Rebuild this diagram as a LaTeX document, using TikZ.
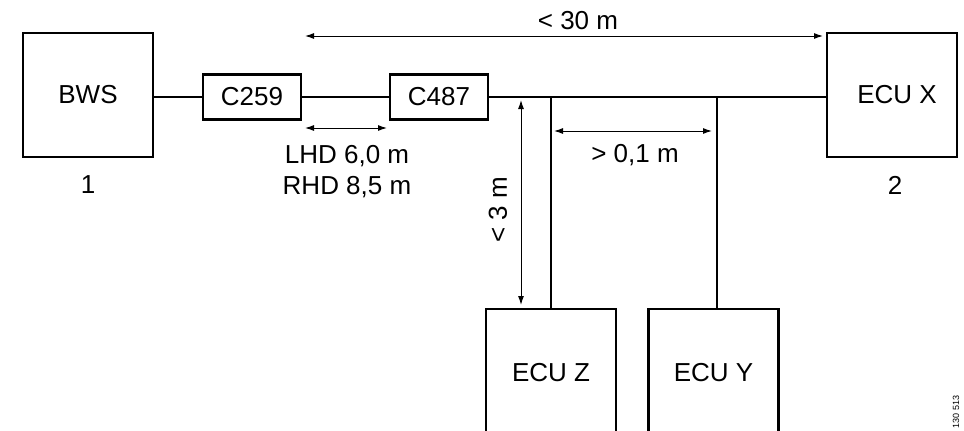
\documentclass[tikz,border=0pt]{standalone}
\usepackage{fontspec}
\setmainfont{Liberation Sans}
\usetikzlibrary{arrows.meta}
\begin{document}
\begin{tikzpicture}[x=1pt,y=-1pt,
  font=\fontsize{26}{31}\selectfont,
  bigbox/.style={draw, line width=2.2pt, minimum width=130pt, minimum height=124pt, inner sep=0pt},
  conbox/.style={draw, line width=2.2pt, minimum width=98pt, minimum height=45pt, inner sep=0pt},
  wire/.style={line width=1.4pt},
  dimarrow/.style={line width=1pt, {Latex[length=9pt,width=6pt]}-{Latex[length=9pt,width=6pt]}},
  lbl/.style={inner sep=0pt}]
\clip (0,0) rectangle (964,431);
\fill[white] (0,0) rectangle (964,431);
% boxes
\node[bigbox] (bws) at (88,95) {BWS};
\node[conbox] (c259) at (252,97) {C259};
\node[conbox] (c487) at (439,97) {C487};
\node[bigbox] (ecux) at (892,95) {\hspace*{10pt}ECU X};
\node[bigbox, minimum height=128pt] (ecuz) at (551,373) {ECU Z};
\node[bigbox, minimum height=128pt] (ecuy) at (713.5,373) {ECU Y};
% labels 1, 2
\node[lbl] (n1) at (88,185) {1};
\node[lbl] (n2) at (895,185) {2};
% wires
\coordinate (jz) at (551,97);
\coordinate (jy) at (717,97);
\draw[wire] (bws.east |- c259.west) -- (c259.west);
\draw[wire] (c259.east) -- (c487.west);
\draw[wire] (c487.east) -- (ecux.west |- c487.east);
\draw[wire] (jz) -- (ecuz.north);
\draw[wire] (jy) -- (jy |- ecuy.north);
% dimension arrows
\coordinate (t1) at (305,36);
\coordinate (t2) at (823,36);
\draw[dimarrow] (t1) -- (t2);
\node[lbl] (l30) at (578,21) {< 30 m};
\coordinate (h1) at (305,128);
\coordinate (h2) at (387,128);
\draw[dimarrow] (h1) -- (h2);
\node[lbl, align=center] (lhd) at (347,172) {LHD 6,0 m\\RHD 8,5 m};
\coordinate (v1) at (521,100);
\coordinate (v2) at (521,305);
\draw[dimarrow] (v1) -- (v2);
\node[lbl, rotate=90] (l3) at (498,210) {< 3 m};
\coordinate (g1) at (554,131);
\coordinate (g2) at (712,131);
\draw[dimarrow] (g1) -- (g2);
\node[lbl] (l01) at (635,155) {> 0,1 m};
% figure number
\node[lbl, rotate=90, font=\fontsize{9}{10}\selectfont] (fig) at (956,412) {130 513};
\end{tikzpicture}
\end{document}
